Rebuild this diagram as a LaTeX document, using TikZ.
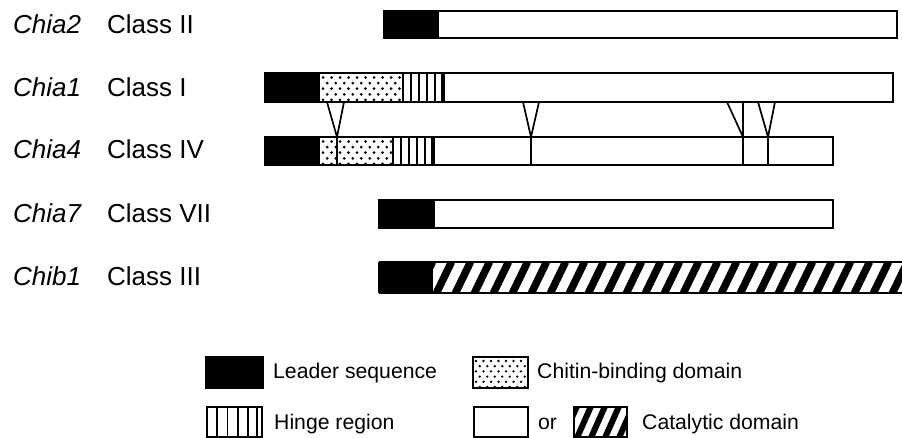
\documentclass[tikz,border=0pt]{standalone}
\usepackage{fontspec}
\setmainfont{Liberation Sans}
\begin{document}
\begin{tikzpicture}[x=1pt,y=-1pt,
  outline/.style={draw=black,line width=1.9pt},
  lbl/.style={anchor=base west,inner sep=0pt,font=\fontsize{26}{30}\selectfont},
  leg/.style={anchor=base west,inner sep=0pt,font=\fontsize{21.2}{25}\selectfont},
  conn/.style={line width=1.7pt,line join=miter},
  hingeline/.style={line width=1.8pt},
  hatchline/.style={line width=7.5pt},
]
\useasboundingbox (0,0) rectangle (902,438);

% ---------- row labels ----------
\node[lbl] (g2) at (13,34)  {\itshape Chia2};
\node[lbl] (c2) at (107,34) {Class II};
\node[lbl] (g1) at (13,97)  {\itshape Chia1};
\node[lbl] (c1) at (107,97) {Class I};
\node[lbl] (g4) at (13,159) {\itshape Chia4};
\node[lbl] (c4) at (107,159) {Class IV};
\node[lbl] (g7) at (13,223) {\itshape Chia7};
\node[lbl] (c7) at (107,223) {Class VII};
\node[lbl] (gb) at (13,286) {\itshape Chib1};
\node[lbl] (cb) at (107,286) {Class III};

% ---------- Chia2 ----------
\fill[black] (384,11) rectangle (439,38);
\draw[outline] (384,11) rectangle (897,38);

% ---------- Chia1 ----------
\fill[black] (265,73) rectangle (320,102);
\begin{scope}
  \clip (320,73) rectangle (403,102);
  \foreach \r in {0,...,4}{
    \foreach \c in {0,...,10}{
      \fill ({323+\c*8.5+mod(\r,2)*4.25},{77.5+\r*5.6}) circle (1.5pt);
    }
  }
\end{scope}
\foreach \x in {403,411,419,427,435}{\draw[hingeline] (\x,73) -- (\x,102);}
\fill[black] (440.5,73) rectangle (445,102);
\draw[outline] (265,73) rectangle (893,102);

% ---------- Chia4 ----------
\fill[black] (265,137) rectangle (320,165);
\begin{scope}
  \clip (320,137) rectangle (393,165);
  \foreach \r in {0,...,4}{
    \foreach \c in {0,...,9}{
      \fill ({323+\c*8.5+mod(\r,2)*4.25},{141.5+\r*5.6}) circle (1.5pt);
    }
  }
\end{scope}
\foreach \x in {393,401,409,417,425}{\draw[hingeline] (\x,137) -- (\x,165);}
\fill[black] (430.5,137) rectangle (435,165);
\draw[outline] (265,137) rectangle (833,165);

% ---------- Chia7 ----------
\fill[black] (379,200) rectangle (435,228);
\draw[outline] (379,200) rectangle (833,228);

% ---------- Chib1 ----------
\fill[black] (379,262) rectangle (433,293);
\begin{scope}
  \clip (433,262) rectangle (902,293);
  \foreach \i in {-1,...,25}{
    \draw[hatchline] ({433+\i*19+2},296) -- ++(16.5,-34);
  }
\end{scope}
\draw[line width=1.2pt] (379,262) -- (902,262) (379,293) -- (902,293) (379,262) -- (379,293);

% ---------- connectors between Chia1 and Chia4 ----------
\coordinate (v1l) at (327,102); \coordinate (v1r) at (344,102);
\coordinate (v1t) at (337,137); \coordinate (v1b) at (337,165);
\coordinate (v2l) at (523,102); \coordinate (v2r) at (539,102);
\coordinate (v2t) at (531,137); \coordinate (v2b) at (531,165);
\coordinate (v3l) at (727,102); \coordinate (v3r) at (743,102);
\coordinate (v3t) at (743,137); \coordinate (v3b) at (743,165);
\coordinate (v4l) at (758,102); \coordinate (v4r) at (775,102);
\coordinate (v4t) at (768,137); \coordinate (v4b) at (768,165);
\draw[conn] (v1l) -- (v1t) -- (v1r);
\draw[conn] (v1t) -- (v1b);
\draw[conn] (v2l) -- (v2t) -- (v2r);
\draw[conn] (v2t) -- (v2b);
\draw[conn] (v3l) -- (v3t);
\draw[conn] (v3r) -- (v3b);
\draw[conn] (v4l) -- (v4t) -- (v4r);
\draw[conn] (v4t) -- (v4b);

% ---------- legend ----------
\fill[black] (206,357) rectangle (263,388);
\draw[outline] (206,357) rectangle (263,388);
\node[leg] (lleader) at (273,378) {Leader sequence};

\begin{scope}
  \clip (473,357) rectangle (528,388);
  \foreach \r in {0,...,5}{
    \foreach \c in {0,...,7}{
      \fill ({476+\c*7.5+mod(\r,2)*3.75},{361+\r*5.2}) circle (1.3pt);
    }
  }
\end{scope}
\draw[outline] (473,357) rectangle (528,388);
\node[leg] (lchitin) at (537,378) {Chitin-binding domain};

\foreach \x in {217,227.5,238,248,257}{\draw[hingeline] (\x,407) -- (\x,437);}
\draw[outline] (207,407) rectangle (262,437);
\node[leg] (lhinge) at (274,429) {Hinge region};

\draw[outline] (474,407) rectangle (528,437);
\node[leg] (lor) at (538,429) {or};
\begin{scope}
  \clip (574,407) rectangle (627,437);
  \foreach \i in {-1,...,4}{
    \draw[line width=6pt] ({574+\i*14+2},440) -- ++(16,-36);
  }
\end{scope}
\draw[outline] (574,407) rectangle (627,437);
\node[leg] (lcat) at (642,429) {Catalytic domain};
\end{tikzpicture}
\end{document}
